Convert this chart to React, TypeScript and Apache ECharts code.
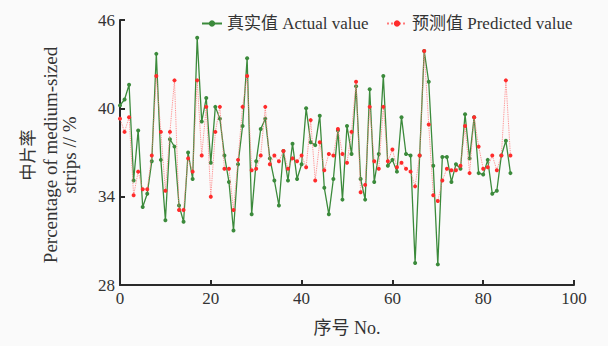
import React, { useEffect, useRef } from "react";
import * as echarts from "echarts";

const actualValues: number[] = [
  40.2, 40.6, 41.6, 35.1, 38.5, 33.3, 34.2, 36.4, 43.7, 36.5,
  32.4, 37.9, 37.4, 33.4, 32.3, 37.0, 35.2, 44.8, 39.1, 40.7,
  36.3, 40.1, 39.3, 36.8, 35.0, 31.7, 36.2, 38.8, 43.4, 32.8,
  36.4, 38.6, 39.3, 36.6, 35.1, 33.4, 37.1, 35.1, 37.6, 35.2,
  36.2, 40.0, 37.7, 37.5, 39.5, 34.6, 32.8, 35.2, 38.5, 33.8,
  38.8, 36.9, 41.5, 35.2, 33.8, 41.3, 35.0, 36.9, 42.2, 36.1,
  36.5, 35.7, 39.4, 36.9, 36.8, 29.5, 36.8, 43.9, 41.8, 36.1,
  29.4, 36.7, 36.7, 35.0, 36.2, 35.9, 39.6, 36.6, 39.4, 35.6,
  35.5, 36.5, 34.2, 34.4, 36.8, 37.8, 35.6,
];

const predictedValues: number[] = [
  39.3, 38.4, 39.4, 34.1, 35.7, 34.5, 34.5, 36.8, 42.2, 38.4,
  34.4, 38.4, 41.9, 33.1, 33.1, 36.6, 35.7, 41.9, 36.8, 40.1,
  34.0, 38.4, 40.1, 35.9, 35.9, 33.1, 36.5, 40.1, 42.2, 35.8,
  35.9, 36.8, 40.1, 36.2, 36.8, 36.4, 37.1, 35.9, 36.6, 36.4,
  36.8, 36.0, 39.2, 35.1, 37.7, 35.8, 36.9, 36.8, 38.6, 36.9,
  36.3, 38.4, 41.8, 34.3, 34.8, 40.1, 36.4, 35.9, 40.1, 36.4,
  37.2, 36.0, 36.3, 35.9, 35.7, 34.7, 36.8, 43.9, 38.9, 34.1,
  33.7, 35.1, 35.9, 35.8, 35.8, 36.1, 38.8, 35.6, 39.4, 37.4,
  35.9, 36.0, 36.8, 35.8, 36.8, 41.9, 36.8,
];

const seriesNames = ["真实值 Actual value", "预测值 Predicted value"];
const xAxisName = "序号 No.";
const yAxisNameLines = ["中片率", "Percentage of medium-sized", "strips // %"];

const FONT = "'Liberation Serif', 'Noto Sans CJK SC', serif";
const GREEN = "#3b8a3b";
const RED = "#ff2b2b";

export default function App() {
  const ref = useRef<HTMLDivElement>(null);

  useEffect(() => {
    if (!ref.current) return;
    const chart = echarts.init(ref.current, undefined, { renderer: "svg" });
    const toPairs = (arr: number[]) => arr.map((v, i) => [i, v]);

    const nameText = (text: string, x: number, size: number) => ({
      type: "text",
      x,
      y: 155,
      rotation: Math.PI / 2,
      style: {
        text,
        fontFamily: FONT,
        fontSize: size,
        fill: "#333",
        align: "center",
        verticalAlign: "middle",
      },
    });

    chart.setOption({
      animation: false,
      backgroundColor: "#fafafa",
      grid: { left: 120, right: 34, top: 20, bottom: 61 },
      legend: [
        {
          data: [seriesNames[0]],
          left: 196,
          top: 10,
          itemWidth: 20,
          itemHeight: 8,
          textStyle: { fontFamily: FONT, fontSize: 17, color: "#333" },
        },
        {
          data: [seriesNames[1]],
          left: 381,
          top: 10,
          itemWidth: 20,
          itemHeight: 8,
          textStyle: { fontFamily: FONT, fontSize: 17, color: "#333" },
        },
      ],
      xAxis: {
        type: "value",
        min: 0,
        max: 100,
        interval: 20,
        name: xAxisName,
        nameLocation: "middle",
        nameGap: 34,
        nameTextStyle: { fontFamily: FONT, fontSize: 18, color: "#333" },
        axisLine: { lineStyle: { color: "#2a2a2a", width: 2 } },
        axisTick: { inside: true, length: 5, lineStyle: { color: "#2a2a2a", width: 2 } },
        axisLabel: { fontFamily: FONT, fontSize: 17, color: "#333", margin: 5 },
        splitLine: { show: false },
      },
      yAxis: {
        type: "value",
        min: 28,
        max: 46,
        interval: 6,
        axisLine: { show: true, lineStyle: { color: "#2a2a2a", width: 2 } },
        axisTick: { show: true, inside: true, length: 5, lineStyle: { color: "#2a2a2a", width: 2 } },
        axisLabel: { fontFamily: FONT, fontSize: 17, color: "#333", margin: 5 },
        splitLine: { show: false },
      },
      graphic: [
        nameText(yAxisNameLines[0], 28, 17),
        nameText(yAxisNameLines[1], 50, 19),
        nameText(yAxisNameLines[2], 69, 19),
      ],
      series: [
        {
          name: seriesNames[0],
          type: "line",
          data: toPairs(actualValues),
          symbol: "circle",
          symbolSize: 4,
          itemStyle: { color: GREEN },
          lineStyle: { color: GREEN, width: 1.3 },
          z: 2,
        },
        {
          name: seriesNames[1],
          type: "line",
          data: toPairs(predictedValues),
          symbol: "circle",
          symbolSize: 4,
          itemStyle: { color: RED },
          lineStyle: { color: "#ff7a7a", width: 0.9, type: "dotted" },
          z: 3,
        },
      ],
    });

    return () => chart.dispose();
  }, []);

  return (
    <div
      ref={ref}
      style={{ position: "absolute", left: 0, top: 0, width: 608, height: 346 }}
    />
  );
}
